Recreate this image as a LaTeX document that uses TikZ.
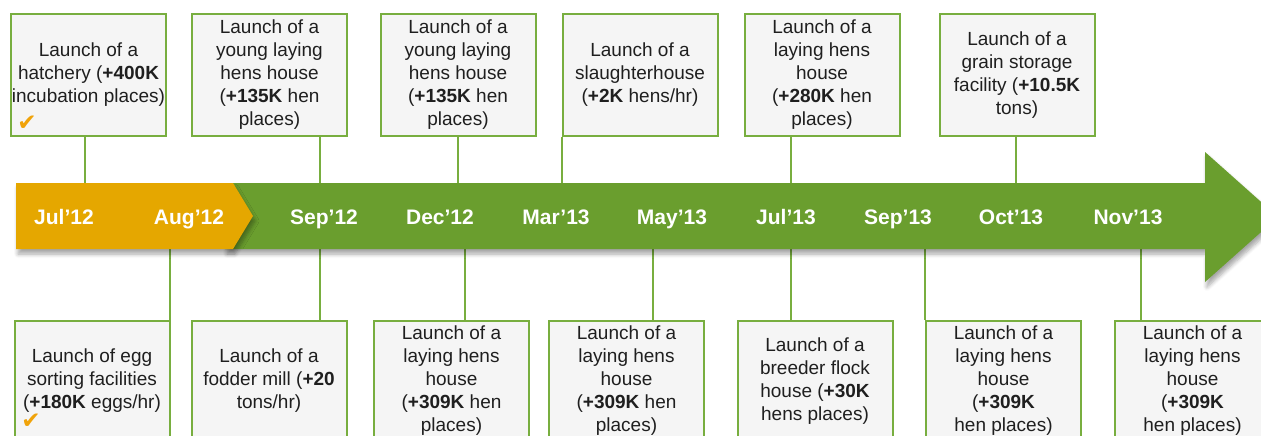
\documentclass[tikz,border=0pt]{standalone}
\usepackage{fontspec}
\setmainfont{Liberation Sans}
\newfontfamily\symfont{DejaVu Sans}
\usetikzlibrary{positioning}
\usetikzlibrary{shadows.blur}

\definecolor{arrgreen}{HTML}{6A9E2E}
\definecolor{arryellow}{HTML}{E5A700}
\definecolor{boxgreen}{HTML}{78AE3F}
\definecolor{boxfill}{HTML}{F5F5F5}
\definecolor{tickorange}{HTML}{F0A30A}

\tikzset{
  event/.style={draw=boxgreen, line width=2pt, fill=boxfill, minimum width=155pt,
    minimum height=121pt, align=center, inner sep=0pt, text=black!88,
    font=\fontsize{19}{23}\selectfont},
  month/.style={text=white, anchor=base, font=\bfseries\fontsize{21}{24}\selectfont},
  link/.style={draw=boxgreen, line width=2pt},
  tick/.style={text=tickorange, inner sep=0pt, font=\symfont\fontsize{23}{23}\selectfont},
  arrshadow/.style={blur shadow={shadow xshift=2pt, shadow yshift=-5pt,
    shadow blur steps=6, shadow blur radius=4pt, shadow opacity=35}}
}

\begin{document}
\begin{tikzpicture}[x=1pt, y=-1pt]
      \useasboundingbox (0,0) rectangle (1261,436);
      \clip (0,0) rectangle (1261,436);

      % events above the time line
      \node[event](h1) at (88.5,75) {Launch of a\\hatchery (\textbf{+400K}\\incubation places)};
      \node[event](h2) at (269.5,75) {Launch of a\\young laying\\hens house\\(\textbf{+135K} hen\\places)};
      \node[event](h3) at (458,75) {Launch of a\\young laying\\hens house\\(\textbf{+135K} hen\\places)};
      \node[event](h4) at (640,75) {Launch of a\\slaughterhouse\\(\textbf{+2K} hens/hr)};
      \node[event](h5) at (822,75) {Launch of a\\laying hens\\house\\(\textbf{+280K} hen\\places)};
      \node[event](h6) at (1017,75) {Launch of a\\grain storage\\facility (\textbf{+10.5K}\\tons)};
      \node[tick](k1) at (27,123) {✔};

      % events below the time line
      \node[event](l1) at (92,381) {Launch of egg\\sorting facilities\\(\textbf{+180K} eggs/hr)};
      \node[event](l2) at (269,381) {Launch of a\\fodder mill (\textbf{+20}\\tons/hr)};
      \node[event](l3) at (451.5,381) {Launch of a\\laying hens\\house\\(\textbf{+309K} hen\\places)};
      \node[event](l4) at (626.5,381) {Launch of a\\laying hens\\house\\(\textbf{+309K} hen\\places)};
      \node[event](l5) at (815,381) {Launch of a\\breeder flock\\house (\textbf{+30K}\\hens places)};
      \node[event](l6) at (1003.5,381) {Launch of a\\laying hens\\house\\(\textbf{+309K}\\hen places)};
      \node[event](l7) at (1192.5,381) {Launch of a\\laying hens\\house\\(\textbf{+309K}\\hen places)};
      \node[tick](k2) at (31,421) {✔};

      \coordinate (t1) at (85,184);
      \coordinate (t2) at (320,184);
      \coordinate (t3) at (458,184);
      \coordinate (t4) at (562,184);
      \coordinate (t5) at (791,184);
      \coordinate (t6) at (1016,184);
      \coordinate (b1) at (170,248);
      \coordinate (b2) at (320,248);
      \coordinate (b3) at (465,248);
      \coordinate (b4) at (653,248);
      \coordinate (b5) at (791,248);
      \coordinate (b6) at (925,248);
      \coordinate (b7) at (1141,248);

      \foreach \i in {1,...,6}
        \draw[link] (h\i.south -| t\i) -- (t\i);
      \foreach \i in {1,...,7}
        \draw[link] (b\i) -- (l\i.north -| b\i);

      % the time line
      \fill[arrgreen, arrshadow] (225,183) -- (1205,183) -- (1205,152) -- (1278,217)
        -- (1205,282) -- (1205,249) -- (225,249) -- cycle;
      \fill[arryellow, arrshadow] (16,183) -- (233,183) -- (253,216) -- (233,249)
        -- (16,249) -- cycle;

      \node[month](m1) at (64,224) {Jul’12};
      \node[month](m2) at (189,224) {Aug’12};
      \node[month](m3) at (324,224) {Sep’12};
      \node[month](m4) at (440,224) {Dec’12};
      \node[month](m5) at (556,224) {Mar’13};
      \node[month](m6) at (672,224) {May’13};
      \node[month](m7) at (786,224) {Jul’13};
      \node[month](m8) at (898,224) {Sep’13};
      \node[month](m9) at (1011,224) {Oct’13};
      \node[month](m10) at (1128,224) {Nov’13};
    \end{tikzpicture}
\end{document}
